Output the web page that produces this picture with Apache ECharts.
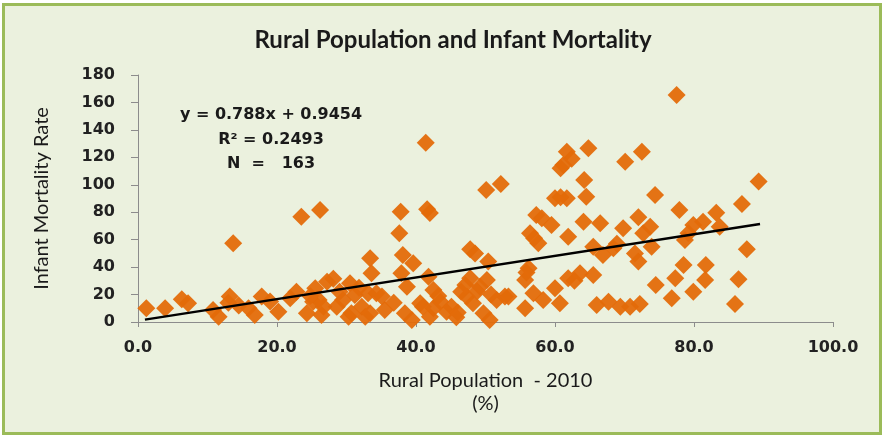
<!DOCTYPE html>
<html>
<head>
<meta charset="utf-8">
<title>Rural Population and Infant Mortality</title>
<script src="https://cdn.jsdelivr.net/npm/echarts@6/dist/echarts.min.js"></script>
<style>
  html, body { margin: 0; padding: 0; background: #ffffff; }
  .frame {
    position: absolute; left: 2px; top: 3px; width: 880px; height: 432px;
    box-sizing: border-box; border: 3px solid #9BBB59; background: #EBF1DE;
  }
  #chart { position: absolute; left: 0; top: 0; width: 886px; height: 438px; }
</style>
</head>
<body>
<div class="frame"></div>
<div id="chart"></div>
<script>
// rural population (% of total, 2010) per country
const ruralPct = [
  1.2, 3.9, 6.3, 7.2, 10.8, 11.6, 13.2, 13.0, 13.7, 15.9, 16.8, 17.8, 20.2, 21.9, 22.8, 24.3, 25.5,
  25.2, 27.2, 26.7, 26.4, 23.5, 26.2, 28.6, 30.5, 31.2, 30.3, 32.2, 33.1, 32.7, 35.1, 35.5, 33.4,
  33.6, 28.1, 26.0, 29.5, 34.3, 30.7, 33.4, 19.0, 14.5, 24.8, 29.0, 31.8,
  41.4, 50.1, 52.2, 37.8, 41.6, 42.0, 37.6, 38.1, 39.6, 47.8, 48.5, 50.4, 37.9, 38.7, 41.8, 42.5,
  38.4, 39.4, 41.0, 42.0, 43.5, 44.4, 45.1, 47.1, 47.8, 47.3, 48.2, 49.2, 50.2, 49.7, 50.6, 51.6,
  52.8, 50.8, 40.6, 42.5, 46.0, 36.8, 43.2, 46.5, 48.8, 45.8,
  61.7, 62.4, 61.2, 64.8, 70.1, 72.5, 64.2, 60.0, 61.7, 64.5, 58.1, 59.5, 64.1, 66.5, 69.8, 72.0,
  56.4, 57.6, 61.9, 65.5, 66.9, 68.4, 71.5, 72.0, 56.2, 55.7, 53.3, 55.7, 56.9, 58.3, 60.0, 60.7,
  61.9, 63.6, 65.5, 66.0, 67.7, 69.4, 70.8, 72.2, 57.3, 57.0, 60.8, 60.8, 55.9, 68.9, 62.8,
  77.5, 89.3, 74.4, 86.9, 77.9, 83.2, 73.7, 72.7, 73.9, 79.9, 81.3, 83.7, 79.2, 78.7, 87.6, 78.5,
  81.7, 77.3, 81.6, 86.4, 74.5, 79.9, 76.8, 85.9
]
// infant mortality rate (per 1000 live births)
const infantMort = [
  10, 10, 16.5, 13.6, 8.7, 3.9, 18.5, 14, 57.4, 10, 5.1, 18.5, 7.5, 17.3, 22.1, 6.3, 24.6,
  14.8, 29.4, 11.2, 5.1, 76.7, 81.6, 11.2, 28.2, 19.7, 3.9, 11.2, 20.9, 3.9, 18.5, 8.7, 46.4,
  35.5, 31.5, 16, 16, 20.9, 6.3, 6.3, 15, 12, 19, 22, 25,
  130.7, 96.2, 100.6, 80.4, 82.1, 79.5, 64.6, 48.8, 42.8, 53, 50, 44, 35.5, 25.7, 33, 23.3,
  6.3, 1.5, 11.2, 3.9, 14.8, 7.5, 11.2, 27, 31.8, 18.5, 13.6, 25.7, 30.6, 6.3, 1.5, 16,
  18.5, 20, 13.6, 10, 7, 14, 19, 22, 22.5, 3.5,
  124, 119, 114.4, 126.6, 116.8, 124, 103.5, 90.2, 90.2, 91.3, 75.6, 70.7, 73.1, 71.9, 68.3, 76.3,
  64.6, 57.4, 62.2, 54.9, 48.8, 53.7, 50, 44, 39.1, 30.6, 18.5, 10, 20.9, 16, 24.6, 13.6,
  31.8, 35.5, 34.3, 12.4, 14.8, 11.2, 11.2, 13.1, 78, 61, 112, 91, 36, 57, 30,
  165.5, 102.3, 92.6, 86, 81.6, 79.7, 69.5, 64.6, 54.9, 70.7, 73.1, 69.5, 64.6, 59.8, 53, 41.5,
  41.5, 31.8, 30.6, 31.1, 27, 22.1, 17.3, 13.1
]

// linear trendline as printed on the chart
const slope = 0.788
const intercept = 0.9454
const trendX = [1.0, 89.5]
const annotationLines = ['y = 0.788x + 0.9454', 'R\u00B2 = 0.2493', 'N  =   163']

const xTicks = { min: 0, max: 100, interval: 20 }
const yTicks = { min: 0, max: 180, interval: 20 }

const points = ruralPct.map((x, i) => [x, infantMort[i]])
const trendPoints = trendX.map(x => [x, slope * x + intercept])

const chart = echarts.init(document.getElementById('chart'), null, { renderer: 'canvas' })

const labelFont = 'DejaVu Sans'
const nameFont = 'Lato'

const option = {
  backgroundColor: 'transparent',
  animation: false,
  title: {
    text: 'Rural Population and Infant Mortality',
    left: 448,
    top: 23,
    textAlign: 'center',
    textStyle: { fontFamily: nameFont, fontWeight: 'bold', fontSize: 24, color: '#1a1a1a' }
  },
  grid: { left: 138, right: 53, top: 75, bottom: 116 },
  xAxis: {
    type: 'value',
    min: xTicks.min,
    max: xTicks.max,
    interval: xTicks.interval,
    name: 'Rural Population  - 2010\n(%)',
    nameLocation: 'middle',
    nameGap: 47,
    nameTextStyle: { fontFamily: nameFont, fontSize: 20, color: '#1a1a1a', lineHeight: 23 },
    axisLine: { lineStyle: { color: '#8c8c8c', width: 1 } },
    axisTick: { show: true, inside: false, length: 5, lineStyle: { color: '#8c8c8c' } },
    axisLabel: {
      margin: 18,
      fontFamily: labelFont, fontWeight: 'bold', fontSize: 16, color: '#222',
      formatter: v => v.toFixed(1)
    },
    splitLine: { show: false }
  },
  yAxis: {
    type: 'value',
    min: yTicks.min,
    max: yTicks.max,
    interval: yTicks.interval,
    name: 'Infant Mortality Rate',
    nameLocation: 'middle',
    nameRotate: 90,
    nameGap: 86,
    nameTextStyle: { fontFamily: nameFont, fontSize: 20, color: '#1a1a1a' },
    axisLine: { show: true, lineStyle: { color: '#8c8c8c', width: 1 } },
    axisTick: { show: true, inside: false, length: 7, lineStyle: { color: '#8c8c8c' } },
    axisLabel: { margin: 23, fontFamily: labelFont, fontWeight: 'bold', fontSize: 16, color: '#222' },
    splitLine: { show: false }
  },
  graphic: annotationLines.map((t, i) => ({
    type: 'text',
    x: 271,
    y: 115 + i * 24.5,
    style: {
      text: t,
      align: 'center',
      verticalAlign: 'middle',
      font: 'bold 16px "DejaVu Sans"',
      fill: '#1a1a1a'
    },
    z: 100
  })),
  series: [
    {
      name: 'countries',
      type: 'scatter',
      symbol: 'diamond',
      symbolSize: 18,
      itemStyle: { color: '#E46C0A', opacity: 0.95 },
      data: points,
      z: 2
    },
    {
      name: 'trend',
      type: 'line',
      symbol: 'none',
      lineStyle: { color: '#000000', width: 2.5 },
      data: trendPoints,
      z: 3
    }
  ]
}

chart.setOption(option)

window.addEventListener('resize', () => {
  chart.resize()
})
</script>
</body>
</html>
